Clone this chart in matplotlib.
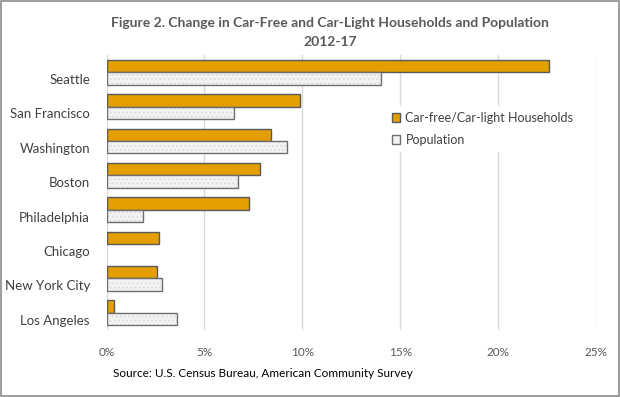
import numpy as np
import matplotlib.pyplot as plt
from matplotlib.patches import Rectangle

cities = ['Seattle', 'San Francisco', 'Washington', 'Boston',
          'Philadelphia', 'Chicago', 'New York City', 'Los Angeles']
households = [22.6, 9.9, 8.4, 7.85, 7.25, 2.7, 2.55, 0.4]
population = [14.0, 6.5, 9.2, 6.7, 1.85, 0.0, 2.85, 3.6]
xticks = [0, 5, 10, 15, 20, 25]

plt.rcParams['font.family'] = ['Lato', 'DejaVu Sans']

fig = plt.figure(figsize=(6.2, 3.97), dpi=100)
ax = fig.add_axes([0.172, 0.169, 0.789, 0.6925])

y = np.arange(len(cities))
h = 0.36
ax.barh(y - h / 2, households, height=h, color='#e49e00', edgecolor='#5a5a5a',
        linewidth=1, label='Car-free/Car-light Households', zorder=3)
# light dotted texture, then the outline on top
ax.barh(y + h / 2, population, height=h, color='#f3f3f3', edgecolor='#dedede',
        linewidth=0, hatch='....', zorder=3)
pop_edges = ['#6e6e6e' if v > 0 else 'none' for v in population]
ax.barh(y + h / 2, population, height=h, fill=False, edgecolor=pop_edges,
        linewidth=1, zorder=4)
ax.barh([0], [0], color='#f3f3f3', edgecolor='#6e6e6e', linewidth=1,
        label='Population')

ax.set_ylim(len(cities) - 0.5, -0.5)
ax.set_xlim(0, 25)
ax.set_yticks(y + 0.2)
ax.set_yticklabels(cities, fontsize=9.5, color='#404040')
ax.set_xticks(xticks)
ax.set_xticklabels([f'{t}%' for t in xticks], fontsize=8.5, color='#595959')
ax.tick_params(length=0)
ax.tick_params(axis='y', pad=12)
ax.tick_params(axis='x', pad=12)
ax.grid(axis='x', color='#d9d9d9', linewidth=1, zorder=0)
for s in ax.spines.values():
    s.set_visible(False)

leg = ax.legend(loc='upper left', bbox_to_anchor=(0.57, 0.815), frameon=True,
                framealpha=1, edgecolor='none', fontsize=9, handlelength=0.7,
                handleheight=0.7, handletextpad=0.4, labelspacing=0.8,
                borderaxespad=0, labelcolor='#404040', borderpad=0.5)

fig.text(0.532, 0.942, 'Figure 2. Change in Car-Free and Car-Light Households and Population',
         ha='center', va='center', fontsize=10, fontweight='bold', color='#595959')
fig.text(0.532, 0.894, '2012-17', ha='center', va='center', fontsize=10,
         fontweight='bold', color='#595959')
fig.text(0.182, 0.06, 'Source: U.S. Census Bureau, American Community Survey',
         ha='left', va='center', fontsize=8.5, color='black')

fig.patches.append(Rectangle((0.001, 0.002), 0.997, 0.995, transform=fig.transFigure,
                             fill=False, edgecolor='#8c8c8c', linewidth=1.2))

fig.savefig('out.png', dpi=100)
